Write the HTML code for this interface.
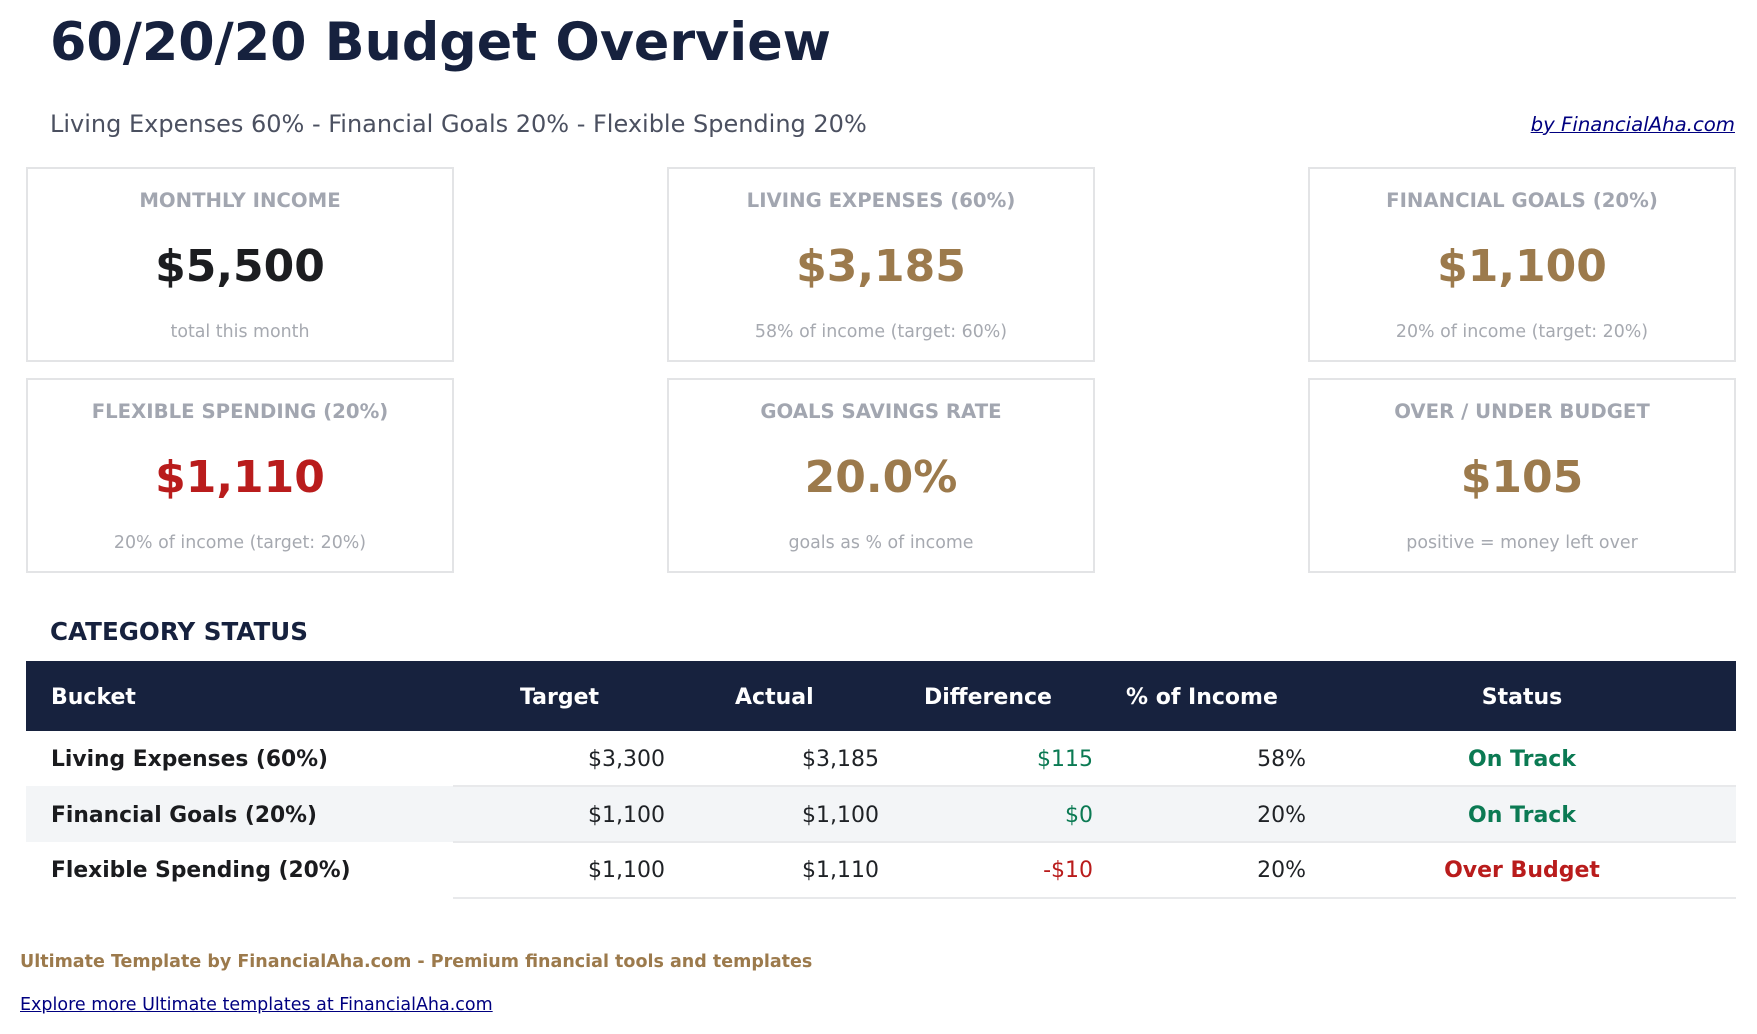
<!DOCTYPE html>
<html>
<head>
<meta charset="utf-8">
<style>
  html,body{margin:0;padding:0;background:#ffffff;}
  body{width:1757px;height:1034px;position:relative;overflow:hidden;font-family:"DejaVu Sans","Liberation Sans",sans-serif;}
  .a{position:absolute;white-space:nowrap;line-height:1;}
  .title{left:50px;top:17px;font-size:52.3px;font-weight:bold;color:#16213e;}
  .sub{left:50px;top:112px;font-size:24px;color:#4b5060;}
  .by{right:22px;top:115px;font-size:19.7px;font-style:italic;color:#000080;text-decoration:underline;}
  .card{position:absolute;width:424px;height:191px;border:2px solid #e3e4e6;background:#fff;}
  .card .lbl{position:absolute;left:0;right:0;top:21.5px;text-align:center;font-size:19.7px;font-weight:bold;color:#a2a6b0;line-height:1;white-space:nowrap;}
  .card .val{position:absolute;left:0;right:0;top:76px;text-align:center;font-size:44px;font-weight:bold;line-height:1;white-space:nowrap;}
  .card .st{position:absolute;left:0;right:0;top:155px;text-align:center;font-size:17.4px;color:#a6a9b0;line-height:1;white-space:nowrap;}
  .gold{color:#9c7a4c;}
  .red{color:#b91c1c;}
  .dark{color:#1c1d20;}
  .sec{left:50px;top:620px;font-size:24.6px;font-weight:bold;color:#16213e;}
  .thead{position:absolute;left:26px;top:661px;width:1710px;height:70px;background:#17223e;}
  .th{position:absolute;top:687px;font-size:22px;font-weight:bold;color:#ffffff;line-height:1;white-space:nowrap;}
  .rowbg{position:absolute;left:26px;top:786px;width:1710px;height:56px;background:#f3f5f7;}
  .line{position:absolute;left:453px;width:1283px;height:2px;background:#e8e9eb;}
  .td{position:absolute;font-size:22px;line-height:1;white-space:nowrap;color:#1f2226;}
  .b{font-weight:bold;color:#1a1b1e;}
  .bk{font-size:21.8px;}
  .r{text-align:right;}
  .c{text-align:center;width:300px;}
  .f1{left:20px;top:954px;font-size:17.5px;font-weight:bold;color:#9c7a4c;}
  .f2{left:20px;top:997px;font-size:17.5px;color:#000080;text-decoration:underline;}
</style>
</head>
<body>
  <div class="a title">60/20/20 Budget Overview</div>
  <div class="a sub">Living Expenses 60% - Financial Goals 20% - Flexible Spending 20%</div>
  <div class="a by">by FinancialAha.com</div>

  <div class="card" style="left:26px;top:167px;">
    <div class="lbl">MONTHLY INCOME</div>
    <div class="val dark">$5,500</div>
    <div class="st">total this month</div>
  </div>
  <div class="card" style="left:667px;top:167px;">
    <div class="lbl">LIVING EXPENSES (60%)</div>
    <div class="val gold">$3,185</div>
    <div class="st">58% of income (target: 60%)</div>
  </div>
  <div class="card" style="left:1308px;top:167px;">
    <div class="lbl">FINANCIAL GOALS (20%)</div>
    <div class="val gold">$1,100</div>
    <div class="st">20% of income (target: 20%)</div>
  </div>

  <div class="card" style="left:26px;top:378px;">
    <div class="lbl">FLEXIBLE SPENDING (20%)</div>
    <div class="val red">$1,110</div>
    <div class="st">20% of income (target: 20%)</div>
  </div>
  <div class="card" style="left:667px;top:378px;">
    <div class="lbl">GOALS SAVINGS RATE</div>
    <div class="val gold">20.0%</div>
    <div class="st">goals as % of income</div>
  </div>
  <div class="card" style="left:1308px;top:378px;">
    <div class="lbl">OVER / UNDER BUDGET</div>
    <div class="val gold">$105</div>
    <div class="st">positive = money left over</div>
  </div>

  <div class="a sec">CATEGORY STATUS</div>

  <div class="thead"></div>
  <div class="th" style="left:51px;">Bucket</div>
  <div class="th" style="left:520px;">Target</div>
  <div class="th" style="left:735px;">Actual</div>
  <div class="th" style="left:924px;">Difference</div>
  <div class="th" style="left:1126px;">% of Income</div>
  <div class="th c" style="left:1372px;">Status</div>

  <div class="rowbg"></div>
  <div class="line" style="top:785px;"></div>
  <div class="line" style="top:841px;"></div>
  <div class="line" style="top:897px;"></div>

  <!-- row 1 -->
  <div class="td b bk" style="left:51px;top:749px;">Living Expenses (60%)</div>
  <div class="td r" style="right:1092px;top:749px;">$3,300</div>
  <div class="td r" style="right:878px;top:749px;">$3,185</div>
  <div class="td r" style="right:664px;top:749px;color:#0b7a53;">$115</div>
  <div class="td r" style="right:451px;top:749px;">58%</div>
  <div class="td c b" style="left:1372px;top:749px;color:#0b7a53;">On Track</div>

  <!-- row 2 -->
  <div class="td b bk" style="left:51px;top:805px;">Financial Goals (20%)</div>
  <div class="td r" style="right:1092px;top:805px;">$1,100</div>
  <div class="td r" style="right:878px;top:805px;">$1,100</div>
  <div class="td r" style="right:664px;top:805px;color:#0b7a53;">$0</div>
  <div class="td r" style="right:451px;top:805px;">20%</div>
  <div class="td c b" style="left:1372px;top:805px;color:#0b7a53;">On Track</div>

  <!-- row 3 -->
  <div class="td b bk" style="left:51px;top:860px;">Flexible Spending (20%)</div>
  <div class="td r" style="right:1092px;top:860px;">$1,100</div>
  <div class="td r" style="right:878px;top:860px;">$1,110</div>
  <div class="td r" style="right:664px;top:860px;color:#b91c1c;">-$10</div>
  <div class="td r" style="right:451px;top:860px;">20%</div>
  <div class="td c b" style="left:1372px;top:860px;color:#b91c1c;">Over Budget</div>

  <div class="a f1">Ultimate Template by FinancialAha.com - Premium financial tools and templates</div>
  <div class="a f2">Explore more Ultimate templates at FinancialAha.com</div>
</body>
</html>
